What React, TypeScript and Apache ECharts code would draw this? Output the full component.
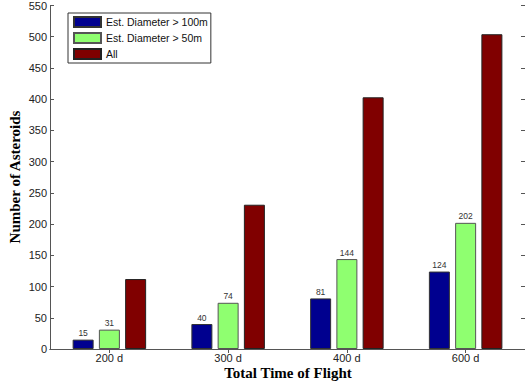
import React, { useEffect, useRef } from "react";
import * as echarts from "echarts";

const categories = ["200 d", "300 d", "400 d", "600 d"];
const seriesNames = ["Est. Diameter > 100m", "Est. Diameter > 50m", "All"];
const over100m = [15, 40, 81, 124];
const over50m = [31, 74, 144, 202];
const allAsteroids = [112, 231, 403, 504];
const yTicks = { min: 0, max: 550, interval: 50 };

export default function App() {
  const ref = useRef<HTMLDivElement>(null);
  useEffect(() => {
    if (!ref.current) return;
    const chart = echarts.init(ref.current, undefined, { renderer: "svg" });
    const font = "Liberation Sans, Arial, sans-serif";
    const serif = "Liberation Serif, Times New Roman, serif";
    const axisColor = "#555";
    const label = {
      show: true,
      position: "top" as const,
      distance: 2,
      fontSize: 8.5,
      fontFamily: font,
      color: "#333",
    };
    const grid = { left: 50, top: 5, width: 478, height: 344 };
    chart.setOption({
      animation: false,
      backgroundColor: "#ffffff",
      grid,
      legend: {
        data: seriesNames,
        orient: "vertical",
        left: 68,
        top: 13,
        icon: "rect",
        itemWidth: 27,
        itemHeight: 10,
        itemGap: 4,
        padding: [3, 3, 3, 5],
        borderColor: "#333",
        borderWidth: 1,
        backgroundColor: "#fff",
        textStyle: { fontSize: 10.5, fontFamily: font, color: "#111" },
      },
      xAxis: [
        {
          type: "category",
          data: categories,
          axisTick: { show: true, inside: true, alignWithLabel: true, length: 4, lineStyle: { color: axisColor } },
          axisLine: { lineStyle: { color: axisColor, width: 1 } },
          axisLabel: { fontSize: 11, fontFamily: font, color: "#222", margin: 3 },
        },
        {
          type: "category",
          data: categories,
          position: "top",
          axisTick: { show: true, inside: true, alignWithLabel: true, length: 4, lineStyle: { color: axisColor } },
          axisLine: { lineStyle: { color: axisColor, width: 1 } },
          axisLabel: { show: false },
        },
      ],
      yAxis: [
        {
          type: "value",
          ...yTicks,
          axisLine: { show: true, lineStyle: { color: axisColor, width: 1 } },
          axisTick: { show: true, inside: true, length: 4, lineStyle: { color: axisColor } },
          axisLabel: { fontSize: 11, fontFamily: font, color: "#222", margin: 3 },
          splitLine: { show: false },
        },
        {
          type: "value",
          ...yTicks,
          position: "right",
          axisLine: { show: true, lineStyle: { color: axisColor, width: 1 } },
          axisTick: { show: true, inside: true, length: 4, lineStyle: { color: axisColor } },
          axisLabel: { show: false },
          splitLine: { show: false },
        },
      ],
      series: [
        {
          name: seriesNames[0],
          type: "bar",
          data: over100m,
          barWidth: 21,
          barGap: "25%",
          itemStyle: { color: "#00008f", borderColor: "#333", borderWidth: 1 },
          label,
        },
        {
          name: seriesNames[1],
          type: "bar",
          data: over50m,
          barWidth: 21,
          barGap: "25%",
          itemStyle: { color: "#8fff70", borderColor: "#555", borderWidth: 1 },
          label,
        },
        {
          name: seriesNames[2],
          type: "bar",
          data: allAsteroids,
          barWidth: 21,
          barGap: "25%",
          itemStyle: { color: "#800000", borderColor: "#222", borderWidth: 1 },
        },
      ],
      graphic: [
        {
          type: "text",
          x: 288,
          y: 373,
          style: {
            text: "Total Time of Flight",
            fontSize: 15,
            fontWeight: "bold",
            fontFamily: serif,
            fill: "#000",
            align: "center",
            verticalAlign: "middle",
          },
        },
        {
          type: "text",
          x: 15,
          y: 177,
          rotation: Math.PI / 2,
          style: {
            text: "Number of Asteroids",
            fontSize: 15,
            fontWeight: "bold",
            fontFamily: serif,
            fill: "#000",
            align: "center",
            verticalAlign: "middle",
          },
        },
      ],
    });
    return () => chart.dispose();
  }, []);
  return <div ref={ref} style={{ width: 525, height: 390, position: "absolute", left: 0, top: 0 }} />;
}
